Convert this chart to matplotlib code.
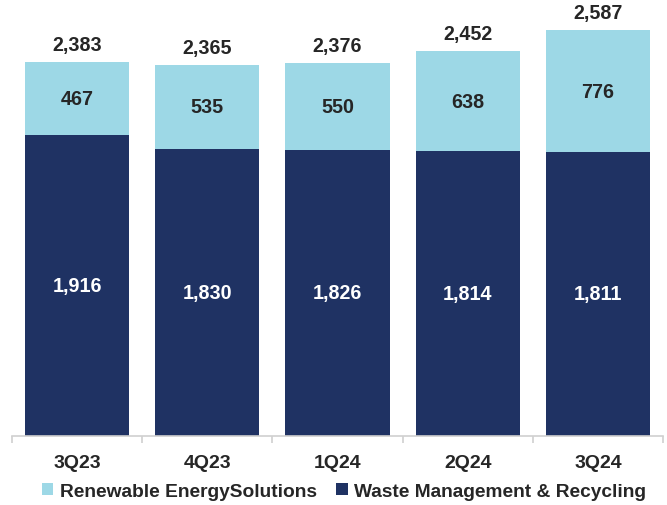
import matplotlib
matplotlib.use("Agg")
import matplotlib.pyplot as plt

# Quarterly revenue by segment
quarters = ["3Q23", "4Q23", "1Q24", "2Q24", "3Q24"]
waste_mgmt = [1916, 1830, 1826, 1814, 1811]
renewable = [467, 535, 550, 638, 776]
totals = [2383, 2365, 2376, 2452, 2587]

NAVY = "#1F3263"
LIGHT = "#9DD8E6"
TEXT = "#262626"

plt.rcParams["font.family"] = ["Liberation Sans", "DejaVu Sans"]
plt.rcParams["font.weight"] = "bold"

fig = plt.figure(figsize=(6.67, 5.06), dpi=100)
ax = fig.add_axes([12 / 667, 69 / 506, 651 / 667, 422 / 506])

x = range(len(quarters))
b1 = ax.bar(x, waste_mgmt, width=0.8, color=NAVY, label="Waste Management & Recycling")
b2 = ax.bar(x, renewable, width=0.8, bottom=waste_mgmt, color=LIGHT,
            label="Renewable EnergySolutions")

for i in x:
    ax.text(i, waste_mgmt[i] / 2, f"{waste_mgmt[i]:,}", ha="center", va="center",
            color="white", fontsize=14.2, fontweight="bold")
    ax.text(i, waste_mgmt[i] + renewable[i] / 2, f"{renewable[i]:,}", ha="center",
            va="center", color=TEXT, fontsize=14.2, fontweight="bold")
    ax.text(i, totals[i] + 50, f"{totals[i]:,}", ha="center", va="bottom",
            color=TEXT, fontsize=14.2, fontweight="bold")

ax.set_xlim(-0.5, len(quarters) - 0.5)
ax.set_ylim(0, 2690)
ax.set_yticks([])
for s in ["top", "right", "left"]:
    ax.spines[s].set_visible(False)
ax.spines["bottom"].set_color("#D0D0D0")
ax.spines["bottom"].set_linewidth(1.2)

ax.set_xticks(x)
ax.set_xticklabels(quarters, fontsize=14, fontweight="bold", color=TEXT)
ax.tick_params(axis="x", length=0, pad=13)
# separator ticks between categories
ax.set_xticks([i - 0.5 for i in range(len(quarters) + 1)], minor=True)
ax.tick_params(axis="x", which="minor", length=5, color="#D0D0D0", width=1.2)

handles = [b2, b1]
fig.legend(handles, [h.get_label() for h in handles], loc="center",
           bbox_to_anchor=(0.516, 0.027), ncol=2, frameon=False,
           prop={"size": 13.8, "weight": "bold"}, handlelength=0.6, handleheight=0.6,
           handletextpad=0.35, columnspacing=1.0, labelcolor=TEXT)

fig.savefig("out.png", dpi=100)
